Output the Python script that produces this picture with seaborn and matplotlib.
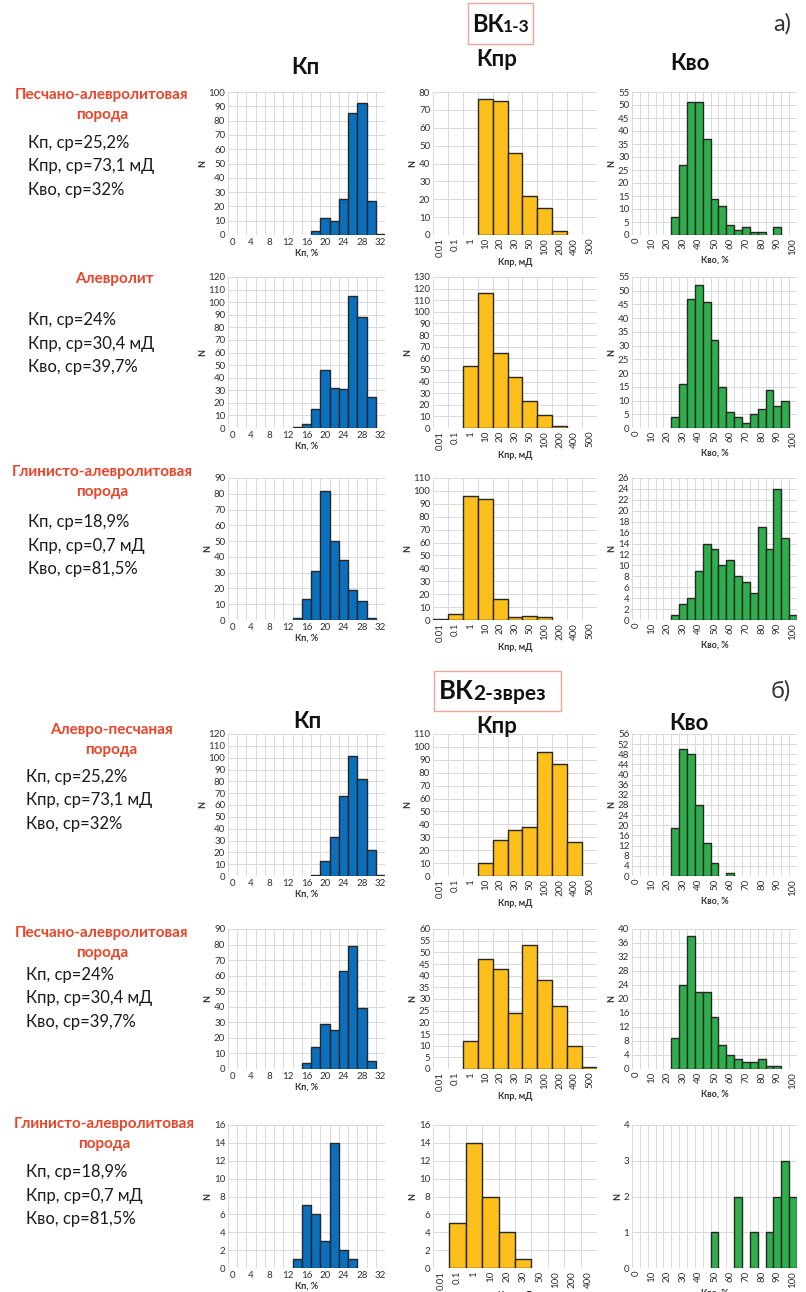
import matplotlib
matplotlib.use("Agg")
import matplotlib.pyplot as plt
from matplotlib.patches import Rectangle
import seaborn as sns
import pandas as pd
import numpy as np

sns.set_theme(style="white")
plt.rcParams['font.family'] = ['Lato', 'DejaVu Sans']

W, H = 806, 1292

# ---------------- categories ----------------
kp_cats = [str(v) for v in range(0, 33, 2)]
kpr_cats = ["0.01", "0.1", "1", "10", "20", "30", "50", "100", "200", "400", "500"]
kpr_cats_short = ["0.01", "0.1", "1", "10", "20", "30", "50", "100", "200", "400"]
kvo_cats = [str(v) for v in range(0, 101, 5)]

# ---------------- ВК1-3 ----------------
kp_1 = {"18": 3, "20": 12, "22": 10, "24": 25, "26": 85, "28": 92, "30": 24, "32": 1}
kpr_1 = {"10": 76, "20": 75, "30": 46, "50": 22, "100": 15, "200": 2}
kvo_1 = {"25": 7, "30": 27, "35": 51, "40": 51, "45": 37, "50": 14, "55": 11, "60": 4,
         "65": 2, "70": 3, "75": 1, "80": 1, "90": 3}

kp_2 = {"14": 1, "16": 3, "18": 15, "20": 46, "22": 32, "24": 31, "26": 105, "28": 88, "30": 25}
kpr_2 = {"1": 53, "10": 116, "20": 65, "30": 44, "50": 23, "100": 11, "200": 2}
kvo_2 = {"25": 4, "30": 16, "35": 47, "40": 52, "45": 46, "50": 32, "55": 15, "60": 6,
         "65": 4, "70": 2, "75": 5, "80": 7, "85": 14, "90": 8, "95": 10}

kp_3 = {"14": 1, "16": 13, "18": 31, "20": 82, "22": 50, "24": 38, "26": 19, "28": 12, "30": 1}
kpr_3 = {"0.01": 1, "0.1": 5, "1": 96, "10": 94, "20": 16, "30": 2, "50": 3, "100": 2}
kvo_3 = {"25": 1, "30": 3, "35": 4, "40": 9, "45": 14, "50": 13, "55": 10, "60": 11,
         "65": 8, "70": 7, "75": 5, "80": 17, "85": 13, "90": 24, "95": 15, "100": 1}

# ---------------- ВК2-зврез ----------------
kp_4 = {"18": 1, "20": 13, "22": 33, "24": 68, "26": 101, "28": 82, "30": 22, "32": 1}
kpr_4 = {"10": 10, "20": 28, "30": 36, "50": 38, "100": 96, "200": 87, "400": 26}
kvo_4 = {"25": 19, "30": 50, "35": 48, "40": 28, "45": 13, "50": 5, "60": 1}

kp_5 = {"16": 4, "18": 14, "20": 29, "22": 25, "24": 63, "26": 79, "28": 39, "30": 5}
kpr_5 = {"1": 12, "10": 47, "20": 43, "30": 24, "50": 53, "100": 38, "200": 27, "400": 10, "500": 1}
kvo_5 = {"25": 9, "30": 24, "35": 38, "40": 22, "45": 22, "50": 15, "55": 7, "60": 4,
         "65": 3, "70": 2, "75": 2, "80": 3, "85": 1, "90": 1}

kp_6 = {"14": 1, "16": 7, "18": 6, "20": 3, "22": 14, "24": 2, "26": 1}
kpr_6 = {"0.1": 5, "1": 14, "10": 8, "20": 4, "30": 1}
kvo_6 = {"50": 1, "65": 2, "75": 1, "85": 1, "90": 2, "95": 3, "100": 2}

# y-axis limits and steps per panel
ylims = [
    [(100, 10), (80, 10), (55, 5)],
    [(120, 10), (130, 10), (55, 5)],
    [(90, 10), (110, 10), (26, 2)],
    [(120, 10), (110, 10), (56, 4)],
    [(90, 10), (60, 5), (40, 4)],
    [(16, 2), (16, 2), (4, 1)],
]

data_rows = [
    (kp_1, kpr_1, kvo_1),
    (kp_2, kpr_2, kvo_2),
    (kp_3, kpr_3, kvo_3),
    (kp_4, kpr_4, kvo_4),
    (kp_5, kpr_5, kvo_5),
    (kp_6, kpr_6, kvo_6),
]

col_specs = [
    dict(cats=kp_cats, color="#0A70BE", xlabel="Кп, %", every=2, rot=0, x0=228, x1=385),
    dict(cats=kpr_cats, color="#FDBF1C", xlabel="Кпр, мД", every=1, rot=90, x0=433, x1=597),
    dict(cats=kvo_cats, color="#2EAF4C", xlabel="Кво, %", every=2, rot=90, x0=632, x1=797),
]

row_bounds = [(92, 235), (277, 428), (478, 620), (734, 876), (929, 1069), (1125, 1268)]

fig = plt.figure(figsize=(W / 100, H / 100), dpi=100)
fig.patch.set_facecolor("white")

tick_col = "#303030"
grid_col = "#D9D9D9"

for r, (top, bot) in enumerate(row_bounds):
    for c, spec in enumerate(col_specs):
        ax = fig.add_axes([spec["x0"] / W, 1 - bot / H,
                           (spec["x1"] - spec["x0"]) / W, (bot - top) / H])
        cats = spec["cats"]
        if r == 5 and c == 1:
            cats = kpr_cats_short
        counts = data_rows[r][c]
        df = pd.DataFrame({"bin": list(counts.keys()), "N": list(counts.values())})
        sns.barplot(data=df, x="bin", y="N", order=cats, width=1.0,
                    color=spec["color"], saturation=1, edgecolor="#262626",
                    linewidth=1.0, ax=ax, zorder=3)
        n = len(cats)
        ax.set_xlim(-0.5, n - 0.5)
        ymax, ystep = ylims[r][c]
        ax.set_ylim(0, ymax)
        ax.set_yticks(np.arange(0, ymax + 0.001, ystep))
        ax.set_yticklabels([str(int(v)) for v in np.arange(0, ymax + 0.001, ystep)])
        pos = list(range(0, n, spec["every"]))
        ax.set_xticks(pos)
        ax.set_xticklabels([cats[i] for i in pos], rotation=spec["rot"])
        ax.set_xticks(np.arange(-0.5, n, 1.0), minor=True)
        ax.grid(False)
        ax.grid(True, which="minor", axis="x", color=grid_col, lw=0.7, zorder=0)
        ax.grid(True, which="major", axis="y", color=grid_col, lw=0.7, zorder=0)
        ax.set_axisbelow(True)
        for s in ax.spines.values():
            s.set_visible(False)
        ax.tick_params(axis="both", which="both", length=0, labelsize=7,
                       colors=tick_col, pad=2)
        ax.set_ylabel("N", fontsize=6.5, fontweight="bold", color=tick_col, labelpad=1)
        ax.set_xlabel(spec["xlabel"], fontsize=6.5, fontweight="bold", color=tick_col,
                      labelpad=1)


def px(x, y):
    return x / W, 1 - y / H


red = "#E8452A"


def section(box, big, small, big_x, small_x, yc, big_size, small_size, letter, letter_x):
    x0, y0, x1, y1 = box
    fig.patches.append(Rectangle(px(x0, y1), (x1 - x0) / W, (y1 - y0) / H,
                                 transform=fig.transFigure, fill=False,
                                 edgecolor="#F2A49C", lw=1.0))
    fig.text(*px(big_x, yc), big, fontsize=big_size, fontweight="bold", ha="left",
             va="center", color="#111111")
    fig.text(*px(small_x, yc + 3), small, fontsize=small_size, fontweight="bold",
             ha="left", va="center", color="#111111")
    fig.text(*px(letter_x, yc), letter, fontsize=17, ha="center", va="center",
             color="#333333")


section((468, 3, 533, 44), "ВК", "1-3", 472, 503, 24, 17, 12.5, "а)", 782)
section((434, 671, 561, 711), "ВК", "2-зврез", 439, 473, 691, 18.5, 15, "б)", 781)

for x, y, t in [(305, 68, "Кп"), (497, 60, "Кпр"), (690, 64, "Кво"),
                (307, 721, "Кп"), (497, 726, "Кпр"), (689, 724, "Кво")]:
    fig.text(*px(x, y), t, fontsize=16, fontweight="bold", ha="center", va="center",
             color="#111111")

# rock descriptions
rock_names = [
    ("Песчано-алевролитовая\nпорода", 102, 105),
    ("Алевролит", 114, 279),
    ("Глинисто-алевролитовая\nпорода", 102, 482),
    ("Алевро-песчаная\nпорода", 111, 740),
    ("Песчано-алевролитовая\nпорода", 102, 943),
    ("Глинисто-алевролитовая\nпорода", 104, 1134),
]
for t, x, y in rock_names:
    fig.text(*px(x, y), t, fontsize=11, fontweight="bold", ha="center", va="center",
             color=red, linespacing=1.5)

stats_a = ["Кп, ср=25,2%", "Кпр, ср=73,1 мД", "Кво, ср=32%"]
stats_b = ["Кп, ср=24%", "Кпр, ср=30,4 мД", "Кво, ср=39,7%"]
stats_c = ["Кп, ср=18,9%", "Кпр, ср=0,7 мД", "Кво, ср=81,5%"]
stat_blocks = [
    (stats_a, 28, 143), (stats_b, 28, 320), (stats_c, 28, 522),
    (stats_a, 26, 777), (stats_b, 26, 975), (stats_c, 26, 1172),
]
for lines, x, y in stat_blocks:
    for i, t in enumerate(lines):
        fig.text(*px(x, y + i * 23.5), t, fontsize=12, ha="left", va="center",
                 color="#1a1a1a")

fig.savefig("out.png", dpi=100, facecolor="white")
